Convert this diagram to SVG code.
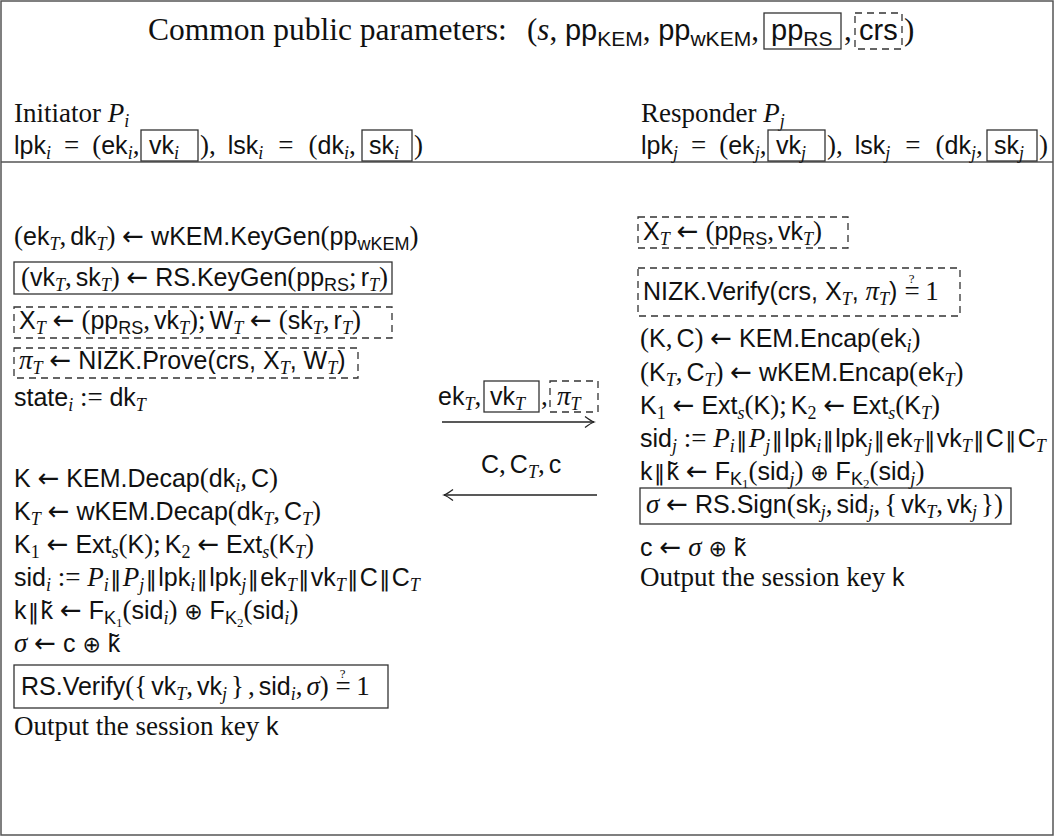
<svg xmlns="http://www.w3.org/2000/svg" width="1054" height="837" viewBox="0 0 1054 837">
<style>
text { fill:#111; }
.sf { font-family:"Liberation Sans",Arial,sans-serif; font-size:25px; }
.tx { font-family:"Liberation Serif","Times New Roman",serif; font-size:27px; }
.tt { font-size:31.5px; }
.tsf { font-family:"Liberation Sans",Arial,sans-serif; font-size:29px; }
.mi { font-family:"Liberation Serif",serif; font-style:italic; font-size:27px; }
.rm { font-family:"Liberation Serif",serif; font-size:27px; }
.sy { font-family:"DejaVu Sans",sans-serif; font-size:22px; }
.ar { font-family:"DejaVu Sans",sans-serif; font-size:26px; }
.trm { font-family:"Liberation Serif",serif; font-size:31px; }
.tmi { font-family:"Liberation Serif",serif; font-style:italic; font-size:31px; }
.b { font-size:18px; }
.tb { font-size:21px; }
.bb { font-size:13px; }
.q { font-size:13px; }
.c { letter-spacing:4px; }
.bar { letter-spacing:1.5px; }
.box { fill:none; stroke:#333; stroke-width:1.3; }
.dash { fill:none; stroke:#333; stroke-width:1.3; stroke-dasharray:7 5; }
.frame { fill:none; stroke:#555; stroke-width:1.5; }
.msg { fill:none; stroke:#222; stroke-width:1.3; }
</style>
<defs>
<marker id="hd" viewBox="-11 -7 13 14" markerWidth="13" markerHeight="14" refX="0" refY="0" orient="auto" markerUnits="userSpaceOnUse">
<path d="M-9,-5.5 Q-3,-1 0,0 Q-3,1 -9,5.5" fill="none" stroke="#222" stroke-width="1.3"/>
</marker>
</defs>

<!-- outer frame and header rule -->
<rect class="frame" x="1" y="1" width="1052" height="834"/>
<line class="frame" x1="1" y1="162" x2="1053" y2="162"/>

<!-- header: public parameters -->
<g id="params">
<text class="tx tt" x="148" y="40">Common public parameters:</text>
<text class="tsf" x="527" y="40"><tspan class="trm">(</tspan><tspan class="tmi">s</tspan><tspan class="trm">, </tspan>pp<tspan class="tb" dy="6">KEM</tspan><tspan class="trm" dy="-6">, </tspan>pp<tspan class="tb" dy="6">wKEM</tspan><tspan class="trm" dy="-6">,</tspan></text>
<rect class="box" x="764" y="13" width="77" height="36"/>
<text class="tsf" x="771" y="40">pp<tspan class="tb" dy="6">RS</tspan></text>
<text class="trm" x="844" y="40">,</text>
<rect class="dash" x="855" y="13" width="47" height="36"/>
<text class="tsf" x="859" y="40">crs</text>
<text class="trm" x="904" y="40">)</text>
</g>

<!-- initiator header -->
<g id="initiator-keys">
<text class="tx" x="14" y="122">Initiator <tspan class="mi">P</tspan><tspan class="mi b" dy="5">i</tspan></text>
<text class="sf" x="14" y="154">lpk<tspan class="mi b" dy="5">i</tspan><tspan class="rm" dy="-5" dx="13" letter-spacing="13">=</tspan><tspan class="rm">(</tspan>ek<tspan class="mi b" dy="5">i</tspan><tspan class="rm" dy="-5">,</tspan></text>
<rect class="box" x="141" y="130" width="57" height="31"/>
<text class="sf" x="149" y="154">vk<tspan class="mi b" dy="5">i</tspan></text>
<text class="sf" x="200" y="154"><tspan class="rm">)</tspan><tspan class="rm" letter-spacing="12">,</tspan>lsk<tspan class="mi b" dy="5">i</tspan><tspan class="rm" dy="-5" dx="15" letter-spacing="15">=</tspan><tspan class="rm">(</tspan>dk<tspan class="mi b" dy="5">i</tspan><tspan class="rm" dy="-5">,</tspan></text>
<rect class="box" x="362" y="130" width="50" height="31"/>
<text class="sf" x="369" y="154">sk<tspan class="mi b" dy="5">i</tspan></text>
<text class="rm" x="414" y="154">)</text>
</g>

<!-- responder header -->
<g id="responder-keys">
<text class="tx" x="641" y="122">Responder <tspan class="mi">P</tspan><tspan class="mi b" dy="5">j</tspan></text>
<text class="sf" x="641" y="154">lpk<tspan class="mi b" dy="5">j</tspan><tspan class="rm" dy="-5" dx="13" letter-spacing="13">=</tspan><tspan class="rm">(</tspan>ek<tspan class="mi b" dy="5">j</tspan><tspan class="rm" dy="-5">,</tspan></text>
<rect class="box" x="768" y="130" width="57" height="31"/>
<text class="sf" x="776" y="154">vk<tspan class="mi b" dy="5">j</tspan></text>
<text class="sf" x="827" y="154"><tspan class="rm">)</tspan><tspan class="rm" letter-spacing="12">,</tspan>lsk<tspan class="mi b" dy="5">j</tspan><tspan class="rm" dy="-5" dx="15" letter-spacing="15">=</tspan><tspan class="rm">(</tspan>dk<tspan class="mi b" dy="5">j</tspan><tspan class="rm" dy="-5">,</tspan></text>
<rect class="box" x="987" y="130" width="50" height="31"/>
<text class="sf" x="994" y="154">sk<tspan class="mi b" dy="5">j</tspan></text>
<text class="rm" x="1039" y="154">)</text>
</g>

<!-- initiator computation, first pass -->
<g id="initiator-round1">
<text class="sf" x="14" y="245"><tspan class="rm">(</tspan>ek<tspan class="mi b" dy="5">T</tspan><tspan class="rm c" dy="-5">,</tspan>dk<tspan class="mi b" dy="5">T</tspan><tspan class="rm" dy="-5">) </tspan><tspan class="ar">←</tspan> wKEM.KeyGen<tspan class="rm">(</tspan>pp<tspan class="b" dy="5">wKEM</tspan><tspan class="rm" dy="-5">)</tspan></text>
<rect class="box" x="14" y="262" width="378" height="32"/>
<text class="sf" x="21" y="286"><tspan class="rm">(</tspan>vk<tspan class="mi b" dy="5">T</tspan><tspan class="rm c" dy="-5">,</tspan>sk<tspan class="mi b" dy="5">T</tspan><tspan class="rm" dy="-5">) </tspan><tspan class="ar">←</tspan> RS.KeyGen<tspan class="rm">(</tspan>pp<tspan class="b" dy="5">RS</tspan><tspan class="rm c" dy="-5">;</tspan>r<tspan class="mi b" dy="5">T</tspan><tspan class="rm" dy="-5">)</tspan></text>
<rect class="dash" x="14" y="307" width="378" height="31"/>
<text class="sf" x="19" y="329">X<tspan class="mi b" dy="5">T</tspan><tspan dy="-5"> </tspan><tspan class="ar">←</tspan> <tspan class="rm">(</tspan>pp<tspan class="b" dy="5">RS</tspan><tspan class="rm c" dy="-5">,</tspan>vk<tspan class="mi b" dy="5">T</tspan><tspan class="rm" dy="-5">)</tspan><tspan class="rm c">;</tspan>W<tspan class="mi b" dy="5">T</tspan><tspan dy="-5"> </tspan><tspan class="ar">←</tspan> <tspan class="rm">(</tspan>sk<tspan class="mi b" dy="5">T</tspan><tspan class="rm c" dy="-5">,</tspan>r<tspan class="mi b" dy="5">T</tspan><tspan class="rm" dy="-5">)</tspan></text>
<rect class="dash" x="14" y="348" width="344" height="30"/>
<text class="sf" x="19" y="369"><tspan class="mi">π</tspan><tspan class="mi b" dy="5">T</tspan><tspan dy="-5"> </tspan><tspan class="ar">←</tspan> NIZK.Prove(crs, X<tspan class="mi b" dy="5">T</tspan><tspan dy="-5">, </tspan>W<tspan class="mi b" dy="5">T</tspan><tspan dy="-5">)</tspan></text>
<text class="sf" x="14" y="406">state<tspan class="mi b" dy="5">i</tspan><tspan class="rm" dy="-5"> := </tspan>dk<tspan class="mi b" dy="5">T</tspan></text>
</g>

<!-- initiator computation, second pass -->
<g id="initiator-round2">
<text class="sf" x="14" y="487">K <tspan class="ar">←</tspan> KEM.Decap<tspan class="rm">(</tspan>dk<tspan class="mi b" dy="5">i</tspan><tspan class="rm c" dy="-5">,</tspan>C<tspan class="rm">)</tspan></text>
<text class="sf" x="14" y="520">K<tspan class="mi b" dy="5">T</tspan><tspan dy="-5"> </tspan><tspan class="ar">←</tspan> wKEM.Decap<tspan class="rm">(</tspan>dk<tspan class="mi b" dy="5">T</tspan><tspan class="rm c" dy="-5">,</tspan>C<tspan class="mi b" dy="5">T</tspan><tspan class="rm" dy="-5">)</tspan></text>
<text class="sf" x="14" y="553">K<tspan class="rm b" dy="5">1</tspan><tspan dy="-5"> </tspan><tspan class="ar">←</tspan> Ext<tspan class="mi b" dy="5">s</tspan><tspan class="rm" dy="-5">(</tspan>K<tspan class="rm">)</tspan><tspan class="rm c">;</tspan>K<tspan class="rm b" dy="5">2</tspan><tspan dy="-5"> </tspan><tspan class="ar">←</tspan> Ext<tspan class="mi b" dy="5">s</tspan><tspan class="rm" dy="-5">(</tspan>K<tspan class="mi b" dy="5">T</tspan><tspan class="rm" dy="-5">)</tspan></text>
<text class="sf" x="14" y="586">sid<tspan class="mi b" dy="5">i</tspan><tspan class="rm" dy="-5"> := </tspan><tspan class="mi">P</tspan><tspan class="mi b" dy="5">i</tspan><tspan class="sy bar" dy="-5" dx="1.5">‖</tspan><tspan class="mi">P</tspan><tspan class="mi b" dy="5">j</tspan><tspan class="sy bar" dy="-5" dx="1.5">‖</tspan>lpk<tspan class="mi b" dy="5">i</tspan><tspan class="sy bar" dy="-5" dx="1.5">‖</tspan>lpk<tspan class="mi b" dy="5">j</tspan><tspan class="sy bar" dy="-5" dx="1.5">‖</tspan>ek<tspan class="mi b" dy="5">T</tspan><tspan class="sy bar" dy="-5" dx="1.5">‖</tspan>vk<tspan class="mi b" dy="5">T</tspan><tspan class="sy bar" dy="-5" dx="1.5">‖</tspan>C<tspan class="sy bar" dx="1.5">‖</tspan>C<tspan class="mi b" dy="5">T</tspan></text>
<text class="sf" x="14" y="619">k<tspan class="sy bar" dx="1.5">‖</tspan>k̃ <tspan class="ar">←</tspan> F<tspan class="b" dy="5">K</tspan><tspan class="rm bb" dy="3">1</tspan><tspan class="rm" dy="-8">(</tspan>sid<tspan class="mi b" dy="5">i</tspan><tspan class="rm" dy="-5">) </tspan><tspan class="sy">⊕</tspan> F<tspan class="b" dy="5">K</tspan><tspan class="rm bb" dy="3">2</tspan><tspan class="rm" dy="-8">(</tspan>sid<tspan class="mi b" dy="5">i</tspan><tspan class="rm" dy="-5">)</tspan></text>
<text class="sf" x="14" y="652"><tspan class="mi">σ</tspan> <tspan class="ar">←</tspan> c <tspan class="sy">⊕</tspan> k̃</text>
<rect class="box" x="14" y="665" width="374" height="43"/>
<text class="sf" x="21" y="695">RS.Verify<tspan class="rm">(</tspan><tspan class="rm c">{</tspan>vk<tspan class="mi b" dy="5">T</tspan><tspan class="rm c" dy="-5">,</tspan>vk<tspan class="mi b" dy="5">j</tspan><tspan class="rm" dy="-5" dx="4">}</tspan><tspan class="rm c" dx="4">,</tspan>sid<tspan class="mi b" dy="5">i</tspan><tspan class="rm c" dy="-5">,</tspan><tspan class="mi">σ</tspan><tspan class="rm">) =</tspan><tspan class="rm q" dx="-11" dy="-17">?</tspan><tspan class="rm" dx="4" dy="17"> 1</tspan></text>
<text class="tx" x="14" y="735">Output the session key <tspan class="sf">k</tspan></text>
</g>

<!-- responder computation -->
<g id="responder">
<rect class="dash" x="638" y="217" width="210" height="31"/>
<text class="sf" x="643" y="240">X<tspan class="mi b" dy="5">T</tspan><tspan dy="-5"> </tspan><tspan class="ar">←</tspan> <tspan class="rm">(</tspan>pp<tspan class="b" dy="5">RS</tspan><tspan class="rm c" dy="-5">,</tspan>vk<tspan class="mi b" dy="5">T</tspan><tspan class="rm" dy="-5">)</tspan></text>
<rect class="dash" x="638" y="268" width="322" height="48"/>
<text class="sf" x="643" y="300">NIZK.Verify(crs, X<tspan class="mi b" dy="5">T</tspan><tspan dy="-5">, </tspan><tspan class="mi">π</tspan><tspan class="mi b" dy="5">T</tspan><tspan dy="-5">) </tspan><tspan class="rm">=</tspan><tspan class="rm q" dx="-11" dy="-17">?</tspan><tspan class="rm" dx="4" dy="17"> 1</tspan></text>
<text class="sf" x="640" y="347"><tspan class="rm">(</tspan>K<tspan class="rm c">,</tspan>C<tspan class="rm">) </tspan><tspan class="ar">←</tspan> KEM.Encap<tspan class="rm">(</tspan>ek<tspan class="mi b" dy="5">i</tspan><tspan class="rm" dy="-5">)</tspan></text>
<text class="sf" x="640" y="381"><tspan class="rm">(</tspan>K<tspan class="mi b" dy="5">T</tspan><tspan class="rm c" dy="-5">,</tspan>C<tspan class="mi b" dy="5">T</tspan><tspan class="rm" dy="-5">) </tspan><tspan class="ar">←</tspan> wKEM.Encap<tspan class="rm">(</tspan>ek<tspan class="mi b" dy="5">T</tspan><tspan class="rm" dy="-5">)</tspan></text>
<text class="sf" x="640" y="414">K<tspan class="rm b" dy="5">1</tspan><tspan dy="-5"> </tspan><tspan class="ar">←</tspan> Ext<tspan class="mi b" dy="5">s</tspan><tspan class="rm" dy="-5">(</tspan>K<tspan class="rm">)</tspan><tspan class="rm c">;</tspan>K<tspan class="rm b" dy="5">2</tspan><tspan dy="-5"> </tspan><tspan class="ar">←</tspan> Ext<tspan class="mi b" dy="5">s</tspan><tspan class="rm" dy="-5">(</tspan>K<tspan class="mi b" dy="5">T</tspan><tspan class="rm" dy="-5">)</tspan></text>
<text class="sf" x="640" y="447">sid<tspan class="mi b" dy="5">j</tspan><tspan class="rm" dy="-5"> := </tspan><tspan class="mi">P</tspan><tspan class="mi b" dy="5">i</tspan><tspan class="sy bar" dy="-5" dx="1.5">‖</tspan><tspan class="mi">P</tspan><tspan class="mi b" dy="5">j</tspan><tspan class="sy bar" dy="-5" dx="1.5">‖</tspan>lpk<tspan class="mi b" dy="5">i</tspan><tspan class="sy bar" dy="-5" dx="1.5">‖</tspan>lpk<tspan class="mi b" dy="5">j</tspan><tspan class="sy bar" dy="-5" dx="1.5">‖</tspan>ek<tspan class="mi b" dy="5">T</tspan><tspan class="sy bar" dy="-5" dx="1.5">‖</tspan>vk<tspan class="mi b" dy="5">T</tspan><tspan class="sy bar" dy="-5" dx="1.5">‖</tspan>C<tspan class="sy bar" dx="1.5">‖</tspan>C<tspan class="mi b" dy="5">T</tspan></text>
<text class="sf" x="640" y="480">k<tspan class="sy bar" dx="1.5">‖</tspan>k̃ <tspan class="ar">←</tspan> F<tspan class="b" dy="5">K</tspan><tspan class="rm bb" dy="3">1</tspan><tspan class="rm" dy="-8">(</tspan>sid<tspan class="mi b" dy="5">j</tspan><tspan class="rm" dy="-5">) </tspan><tspan class="sy">⊕</tspan> F<tspan class="b" dy="5">K</tspan><tspan class="rm bb" dy="3">2</tspan><tspan class="rm" dy="-8">(</tspan>sid<tspan class="mi b" dy="5">j</tspan><tspan class="rm" dy="-5">)</tspan></text>
<rect class="box" x="640" y="488" width="371" height="36"/>
<text class="sf" x="646" y="513"><tspan class="mi">σ</tspan> <tspan class="ar">←</tspan> RS.Sign<tspan class="rm">(</tspan>sk<tspan class="mi b" dy="5">j</tspan><tspan class="rm c" dy="-5">,</tspan>sid<tspan class="mi b" dy="5">j</tspan><tspan class="rm c" dy="-5">,</tspan><tspan class="rm c">{</tspan>vk<tspan class="mi b" dy="5">T</tspan><tspan class="rm c" dy="-5">,</tspan>vk<tspan class="mi b" dy="5">j</tspan><tspan class="rm" dy="-5" dx="4">})</tspan></text>
<text class="sf" x="640" y="556">c <tspan class="ar">←</tspan> <tspan class="mi">σ</tspan> <tspan class="sy">⊕</tspan> k̃</text>
<text class="tx" x="640" y="586">Output the session key <tspan class="sf">k</tspan></text>
</g>

<!-- exchanged messages -->
<g id="msg-labels">
<text class="sf" x="438" y="405">ek<tspan class="mi b" dy="5">T</tspan><tspan class="rm" dy="-5">,</tspan></text>
<rect class="box" x="484" y="381" width="55" height="31"/>
<text class="sf" x="490" y="405">vk<tspan class="mi b" dy="5">T</tspan></text>
<text class="rm" x="541" y="405">,</text>
<rect class="dash" x="550" y="381" width="48" height="31"/>
<text class="mi" x="557" y="405">π<tspan class="b" dy="5">T</tspan></text>
<text class="sf" x="481" y="473">C<tspan class="rm c">,</tspan>C<tspan class="mi b" dy="5">T</tspan><tspan class="rm c" dy="-5">,</tspan>c</text>
</g>
<g id="connectors">
<line class="msg" x1="442" y1="422" x2="594" y2="422" marker-end="url(#hd)"/>
<line class="msg" x1="597" y1="495" x2="444" y2="495" marker-end="url(#hd)"/>
</g>
</svg>
